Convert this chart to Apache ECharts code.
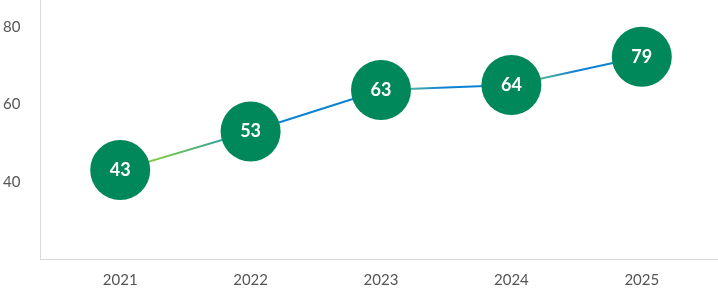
<!DOCTYPE html>
<html>
<head>
<meta charset="utf-8">
<script src="https://cdn.jsdelivr.net/npm/echarts@6/dist/echarts.min.js"></script>
<style>
html,body{margin:0;padding:0;background:#fff;}
#chart{width:718px;height:290px;}
</style>
</head>
<body>
<div id="chart"></div>
<script>
const categories = ['2021', '2022', '2023', '2024', '2025'];
const positions = [43, 53, 63.7, 65, 72.3];
const valueLabels = ['43', '53', '63', '64', '79'];
const yTicks = [40, 60, 80];

const chart = echarts.init(document.getElementById('chart'));
const font = 'Lato, "Noto Sans", sans-serif';
const green = '#7ac943';
const blue = '#0b82d3';

chart.setOption({
  animation: false,
  grid: [
    { left: 40, right: 0, top: 0, bottom: 31 },
    { left: 55, right: 11, top: 0, bottom: 31 }
  ],
  xAxis: [
    { type: 'category', gridIndex: 0, data: categories,
      axisLine: { show: true, lineStyle: { color: '#d9d9d9', width: 1 } },
      axisTick: { show: false }, axisLabel: { show: false }, splitLine: { show: false } },
    { type: 'category', gridIndex: 1, data: categories, boundaryGap: true,
      axisLine: { show: false }, axisTick: { show: false },
      axisLabel: { color: '#555', fontFamily: font, fontSize: 15, margin: 14 } }
  ],
  yAxis: [
    { type: 'value', gridIndex: 0, min: 20, max: 87, interval: 20,
      axisLine: { show: true, lineStyle: { color: '#d9d9d9', width: 1 } },
      axisTick: { show: false }, splitLine: { show: false },
      axisLabel: { color: '#555', fontFamily: font, fontSize: 15, margin: 20,
        showMinLabel: false, showMaxLabel: false,
        formatter: v => yTicks.includes(v) ? String(v) : '' } },
    { type: 'value', gridIndex: 1, min: 20, max: 87, show: false }
  ],
  series: [{
    type: 'line',
    xAxisIndex: 1, yAxisIndex: 1,
    data: positions,
    symbol: 'circle',
    symbolSize: 60,
    itemStyle: { color: '#00875a', borderWidth: 0 },
    lineStyle: {
      width: 2,
      color: new echarts.graphic.LinearGradient(0, 0, 1, 0, [
        { offset: 0, color: green },
        { offset: 0.08, color: green },
        { offset: 0.24, color: '#1b93bf' },
        { offset: 0.27, color: blue },
        { offset: 0.5, color: blue },
        { offset: 0.53, color: '#6fc48f' },
        { offset: 0.62, color: blue },
        { offset: 0.75, color: blue },
        { offset: 0.78, color: '#6cc486' },
        { offset: 0.87, color: blue },
        { offset: 1, color: blue }
      ])
    },
    label: {
      show: true, position: 'inside', color: '#fff',
      fontFamily: font, fontSize: 18, fontWeight: 'bold',
      formatter: p => valueLabels[p.dataIndex]
    },
    z: 3
  }]
});
</script>
</body>
</html>
